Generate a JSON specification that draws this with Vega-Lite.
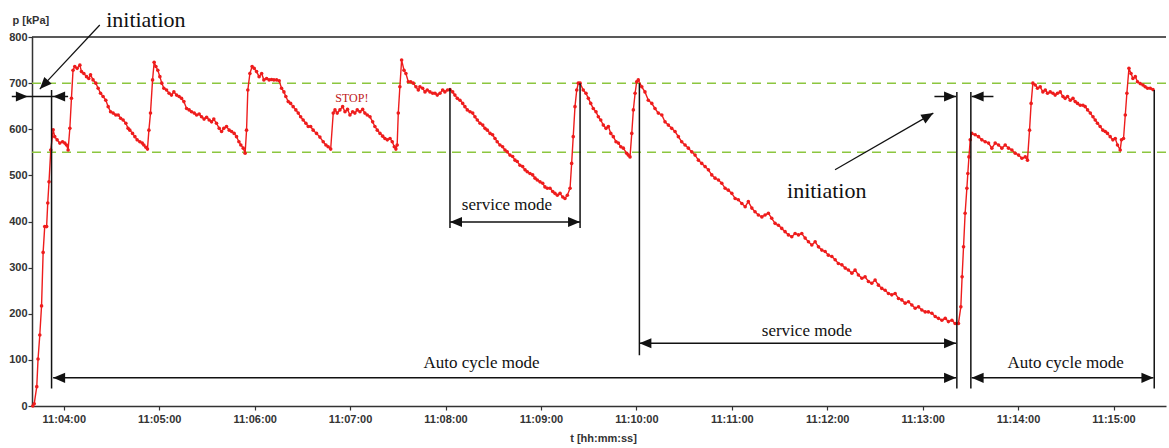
{
"$schema": "https://vega.github.io/schema/vega-lite/v6.json",
"width": 1134, "height": 369,
"autosize": {"type": "none"},
"padding": {"left": 32, "top": 37, "right": 3, "bottom": 42},
"background": "white",
"config": {"view": {"stroke": null}, "axis": {"grid": false, "labelFont": "Liberation Sans", "titleFont": "Liberation Sans", "labelFontWeight": "bold", "titleFontWeight": "bold", "labelFontSize": 11, "titleFontSize": 11, "labelColor": "#333", "titleColor": "#333", "domainColor": "#333", "tickColor": "#333", "domainWidth": 1.5, "tickWidth": 1.2, "labelFlush": false}},
"datasets": {
"limits": [{"p": 700}, {"p": 550}],
"top": [{"p": 800}],
"series": [{"t":220.5,"p":0},{"t":221.4,"p":5},{"t":223.0,"p":42},{"t":223.8,"p":102},{"t":224.9,"p":154},{"t":226.0,"p":217},{"t":227.0,"p":333},{"t":228.0,"p":389},{"t":229.2,"p":389},{"t":229.9,"p":440},{"t":230.7,"p":486},{"t":231.8,"p":555},{"t":233.3,"p":599},{"t":234.3,"p":584},{"t":235.8,"p":577},{"t":237.5,"p":570},{"t":239.2,"p":573},{"t":240.6,"p":570},{"t":241.7,"p":566},{"t":242.7,"p":555},{"t":243.8,"p":602},{"t":244.8,"p":667},{"t":245.8,"p":728},{"t":246.9,"p":736},{"t":248.4,"p":732},{"t":250.1,"p":739},{"t":251.1,"p":725},{"t":252.6,"p":721},{"t":254.3,"p":714},{"t":255.7,"p":710},{"t":256.8,"p":718},{"t":258.4,"p":707},{"t":260.1,"p":700},{"t":261.6,"p":689},{"t":263.1,"p":678},{"t":264.7,"p":671},{"t":266.4,"p":663},{"t":267.9,"p":649},{"t":269.4,"p":638},{"t":271.0,"p":635},{"t":272.7,"p":631},{"t":274.2,"p":631},{"t":275.7,"p":624},{"t":277.3,"p":620},{"t":279.0,"p":613},{"t":280.4,"p":602},{"t":281.5,"p":598},{"t":283.2,"p":591},{"t":284.7,"p":584},{"t":286.1,"p":577},{"t":287.8,"p":573},{"t":289.3,"p":570},{"t":290.3,"p":566},{"t":291.6,"p":561},{"t":292.6,"p":557},{"t":293.5,"p":598},{"t":294.5,"p":635},{"t":295.8,"p":707},{"t":296.8,"p":745},{"t":297.9,"p":736},{"t":299.1,"p":728},{"t":300.4,"p":714},{"t":301.6,"p":700},{"t":302.9,"p":689},{"t":304.6,"p":685},{"t":306.2,"p":678},{"t":307.7,"p":674},{"t":309.2,"p":681},{"t":310.9,"p":674},{"t":312.5,"p":671},{"t":314.0,"p":667},{"t":315.5,"p":660},{"t":317.2,"p":645},{"t":318.8,"p":642},{"t":320.3,"p":638},{"t":322.0,"p":635},{"t":323.5,"p":631},{"t":325.1,"p":633},{"t":326.6,"p":627},{"t":328.2,"p":622},{"t":329.8,"p":626},{"t":331.4,"p":620},{"t":332.9,"p":616},{"t":334.3,"p":622},{"t":336.0,"p":613},{"t":337.7,"p":602},{"t":339.2,"p":595},{"t":340.6,"p":602},{"t":342.3,"p":606},{"t":344.0,"p":598},{"t":345.5,"p":595},{"t":347.1,"p":591},{"t":348.6,"p":584},{"t":350.1,"p":573},{"t":351.3,"p":566},{"t":352.8,"p":559},{"t":354.0,"p":548},{"t":354.9,"p":598},{"t":355.7,"p":685},{"t":357.0,"p":721},{"t":358.4,"p":736},{"t":359.7,"p":732},{"t":361.2,"p":725},{"t":362.8,"p":714},{"t":364.4,"p":721},{"t":365.8,"p":707},{"t":367.5,"p":710},{"t":369.1,"p":707},{"t":370.6,"p":708},{"t":372.1,"p":707},{"t":373.8,"p":707},{"t":375.4,"p":705},{"t":376.9,"p":689},{"t":378.4,"p":681},{"t":379.6,"p":671},{"t":381.1,"p":660},{"t":382.6,"p":656},{"t":384.2,"p":649},{"t":385.9,"p":642},{"t":387.4,"p":635},{"t":388.9,"p":627},{"t":390.5,"p":620},{"t":392.2,"p":613},{"t":393.7,"p":606},{"t":395.2,"p":606},{"t":396.8,"p":598},{"t":398.9,"p":591},{"t":401.0,"p":583},{"t":403.1,"p":573},{"t":404.8,"p":566},{"t":406.2,"p":562},{"t":407.8,"p":557},{"t":409.4,"p":635},{"t":410.5,"p":642},{"t":411.9,"p":635},{"t":413.6,"p":642},{"t":415.3,"p":649},{"t":416.8,"p":638},{"t":418.4,"p":643},{"t":419.9,"p":631},{"t":421.6,"p":638},{"t":423.0,"p":635},{"t":424.5,"p":642},{"t":426.2,"p":638},{"t":427.9,"p":643},{"t":429.3,"p":635},{"t":430.8,"p":631},{"t":432.5,"p":627},{"t":434.2,"p":616},{"t":435.6,"p":606},{"t":437.1,"p":598},{"t":438.8,"p":591},{"t":440.5,"p":585},{"t":441.9,"p":580},{"t":443.4,"p":577},{"t":445.1,"p":580},{"t":446.5,"p":573},{"t":447.8,"p":562},{"t":448.8,"p":557},{"t":449.6,"p":566},{"t":450.3,"p":635},{"t":451.3,"p":692},{"t":452.4,"p":750},{"t":453.9,"p":728},{"t":455.1,"p":721},{"t":456.6,"p":703},{"t":458.1,"p":703},{"t":459.7,"p":700},{"t":461.4,"p":692},{"t":462.9,"p":685},{"t":463.9,"p":692},{"t":465.6,"p":689},{"t":467.1,"p":681},{"t":468.5,"p":685},{"t":470.2,"p":681},{"t":471.9,"p":678},{"t":473.4,"p":678},{"t":474.8,"p":674},{"t":476.5,"p":678},{"t":478.2,"p":685},{"t":479.6,"p":681},{"t":481.3,"p":685},{"t":482.8,"p":686},{"t":484.5,"p":681},{"t":485.9,"p":674},{"t":487.4,"p":667},{"t":489.1,"p":663},{"t":490.8,"p":656},{"t":492.2,"p":649},{"t":493.7,"p":642},{"t":495.4,"p":638},{"t":497.1,"p":635},{"t":498.5,"p":627},{"t":500.0,"p":620},{"t":501.7,"p":613},{"t":503.4,"p":609},{"t":504.8,"p":602},{"t":506.3,"p":598},{"t":508.0,"p":591},{"t":509.6,"p":588},{"t":511.1,"p":580},{"t":512.5,"p":573},{"t":514.2,"p":566},{"t":515.9,"p":562},{"t":517.4,"p":555},{"t":518.8,"p":551},{"t":520.5,"p":544},{"t":522.2,"p":541},{"t":523.7,"p":533},{"t":525.1,"p":530},{"t":526.8,"p":522},{"t":528.5,"p":519},{"t":530.0,"p":512},{"t":531.4,"p":508},{"t":533.1,"p":504},{"t":534.8,"p":501},{"t":536.3,"p":494},{"t":537.7,"p":490},{"t":539.4,"p":486},{"t":541.1,"p":483},{"t":542.5,"p":475},{"t":544.0,"p":472},{"t":545.7,"p":472},{"t":547.4,"p":465},{"t":548.8,"p":461},{"t":550.3,"p":457},{"t":552.0,"p":461},{"t":553.7,"p":453},{"t":555.1,"p":450},{"t":556.6,"p":457},{"t":558.3,"p":472},{"t":559.3,"p":526},{"t":560.3,"p":584},{"t":561.4,"p":649},{"t":562.5,"p":685},{"t":563.5,"p":700},{"t":564.6,"p":700},{"t":566.6,"p":685},{"t":568.3,"p":678},{"t":569.8,"p":667},{"t":571.3,"p":656},{"t":572.9,"p":645},{"t":574.6,"p":638},{"t":576.1,"p":627},{"t":577.6,"p":620},{"t":579.2,"p":609},{"t":580.9,"p":602},{"t":582.4,"p":606},{"t":583.9,"p":591},{"t":585.5,"p":584},{"t":587.2,"p":573},{"t":588.7,"p":570},{"t":590.2,"p":562},{"t":591.8,"p":559},{"t":593.9,"p":548},{"t":594.9,"p":544},{"t":596.0,"p":540},{"t":597.1,"p":591},{"t":598.1,"p":642},{"t":599.2,"p":678},{"t":600.2,"p":703},{"t":601.2,"p":707},{"t":603.4,"p":692},{"t":605.4,"p":681},{"t":607.5,"p":663},{"t":609.7,"p":656},{"t":611.7,"p":645},{"t":613.8,"p":635},{"t":616.0,"p":631},{"t":618.0,"p":616},{"t":620.1,"p":609},{"t":622.2,"p":602},{"t":624.3,"p":595},{"t":626.4,"p":584},{"t":628.5,"p":573},{"t":630.6,"p":566},{"t":632.7,"p":559},{"t":634.8,"p":551},{"t":636.9,"p":544},{"t":639.0,"p":533},{"t":641.1,"p":526},{"t":643.2,"p":519},{"t":645.3,"p":512},{"t":647.4,"p":501},{"t":649.5,"p":494},{"t":651.6,"p":490},{"t":653.7,"p":483},{"t":655.8,"p":472},{"t":657.8,"p":468},{"t":660.0,"p":461},{"t":662.1,"p":450},{"t":664.1,"p":447},{"t":666.3,"p":439},{"t":668.4,"p":432},{"t":670.4,"p":443},{"t":672.6,"p":429},{"t":674.6,"p":421},{"t":676.7,"p":414},{"t":678.9,"p":410},{"t":680.9,"p":414},{"t":683.0,"p":418},{"t":685.1,"p":407},{"t":687.2,"p":396},{"t":689.3,"p":392},{"t":691.4,"p":385},{"t":693.5,"p":378},{"t":695.6,"p":371},{"t":697.7,"p":367},{"t":699.8,"p":374},{"t":701.9,"p":371},{"t":704.0,"p":374},{"t":706.1,"p":364},{"t":708.2,"p":356},{"t":710.3,"p":349},{"t":712.4,"p":356},{"t":714.5,"p":345},{"t":716.6,"p":338},{"t":718.7,"p":335},{"t":720.7,"p":327},{"t":722.9,"p":324},{"t":725.0,"p":317},{"t":727.0,"p":309},{"t":729.2,"p":306},{"t":731.3,"p":299},{"t":733.3,"p":295},{"t":735.5,"p":288},{"t":737.5,"p":295},{"t":739.6,"p":284},{"t":741.8,"p":277},{"t":743.8,"p":280},{"t":745.9,"p":270},{"t":748.0,"p":266},{"t":750.1,"p":273},{"t":752.2,"p":262},{"t":754.3,"p":255},{"t":756.4,"p":251},{"t":758.5,"p":244},{"t":760.6,"p":241},{"t":762.7,"p":244},{"t":764.8,"p":233},{"t":766.9,"p":230},{"t":769.0,"p":223},{"t":771.1,"p":226},{"t":773.2,"p":219},{"t":775.3,"p":212},{"t":777.4,"p":215},{"t":779.5,"p":208},{"t":781.6,"p":204},{"t":783.6,"p":204},{"t":785.8,"p":201},{"t":787.9,"p":194},{"t":789.9,"p":190},{"t":792.1,"p":186},{"t":794.2,"p":190},{"t":796.2,"p":183},{"t":798.4,"p":186},{"t":800.4,"p":179},{"t":802.5,"p":179},{"t":804.0,"p":215},{"t":804.8,"p":280},{"t":805.7,"p":345},{"t":806.7,"p":418},{"t":807.8,"p":472},{"t":808.4,"p":504},{"t":809.1,"p":540},{"t":809.9,"p":577},{"t":810.9,"p":591},{"t":813.0,"p":588},{"t":815.1,"p":584},{"t":817.2,"p":577},{"t":819.3,"p":573},{"t":821.4,"p":570},{"t":823.5,"p":559},{"t":825.6,"p":570},{"t":827.7,"p":566},{"t":829.8,"p":559},{"t":831.9,"p":566},{"t":834.0,"p":559},{"t":836.1,"p":555},{"t":838.2,"p":548},{"t":840.3,"p":544},{"t":842.4,"p":537},{"t":844.5,"p":540},{"t":845.9,"p":533},{"t":847.2,"p":598},{"t":848.2,"p":656},{"t":849.3,"p":700},{"t":850.8,"p":696},{"t":852.2,"p":689},{"t":853.9,"p":692},{"t":855.6,"p":681},{"t":857.1,"p":685},{"t":858.5,"p":678},{"t":860.2,"p":681},{"t":861.9,"p":678},{"t":863.3,"p":674},{"t":864.8,"p":678},{"t":866.5,"p":681},{"t":868.2,"p":671},{"t":869.6,"p":667},{"t":871.1,"p":671},{"t":872.8,"p":663},{"t":874.5,"p":667},{"t":875.9,"p":660},{"t":877.4,"p":656},{"t":879.1,"p":652},{"t":880.8,"p":652},{"t":882.2,"p":649},{"t":883.7,"p":642},{"t":885.4,"p":635},{"t":887.1,"p":627},{"t":888.5,"p":620},{"t":889.9,"p":613},{"t":891.6,"p":606},{"t":893.3,"p":598},{"t":894.8,"p":595},{"t":896.2,"p":591},{"t":897.9,"p":584},{"t":899.6,"p":577},{"t":901.1,"p":580},{"t":902.5,"p":566},{"t":904.2,"p":555},{"t":905.0,"p":577},{"t":906.3,"p":580},{"t":907.4,"p":631},{"t":908.4,"p":678},{"t":909.7,"p":732},{"t":911.0,"p":721},{"t":912.2,"p":710},{"t":913.7,"p":714},{"t":915.1,"p":703},{"t":916.8,"p":699},{"t":918.5,"p":696},{"t":919.9,"p":692},{"t":921.4,"p":689},{"t":923.1,"p":689},{"t":924.8,"p":686}],
"vlines": [{"t":232.3,"p1":685,"p2":38},{"t":482.8,"p1":689,"p2":386},{"t":564.6,"p1":700,"p2":386},{"t":601.9,"p1":700,"p2":110},{"t":801.5,"p1":681,"p2":38},{"t":810.3,"p1":681,"p2":38},{"t":925.6,"p1":685,"p2":38}],
"hsegs": [{"t1":207.3,"t2":242.7,"p":671},{"t1":233.3,"t2":801.0,"p":61},{"t1":482.8,"t2":564.6,"p":399},{"t1":601.9,"t2":801.0,"p":136},{"t1":787.4,"t2":801.0,"p":671},{"t1":810.8,"t2":824.5,"p":671},{"t1":810.8,"t2":925.1,"p":61}],
"heads": [{"t":217.4,"p":671,"dir":"right"},{"t":233.3,"p":671,"dir":"left"},{"t":233.3,"p":61,"dir":"left"},{"t":801.0,"p":61,"dir":"right"},{"t":482.8,"p":399,"dir":"left"},{"t":564.6,"p":399,"dir":"right"},{"t":601.9,"p":136,"dir":"left"},{"t":801.0,"p":136,"dir":"right"},{"t":801.0,"p":671,"dir":"right"},{"t":810.8,"p":671,"dir":"left"},{"t":810.8,"p":61,"dir":"left"},{"t":925.1,"p":61,"dir":"right"},{"t":224.9,"p":687,"dir":"downleft"},{"t":786.7,"p":635,"dir":"upright"}],
"diag": [{"t":262.6,"p":826,"t2":224.9,"p2":687},{"t":724.9,"p":512,"t2":786.7,"p2":635}],
"labels": [{"t":291.6,"p":822,"text":"initiation","kind":"big"},{"t":719.7,"p":452,"text":"initiation","kind":"big"},{"t":518.6,"p":425,"text":"service mode","kind":"mid"},{"t":707.2,"p":152,"text":"service mode","kind":"mid"},{"t":502.6,"p":82,"text":"Auto cycle mode","kind":"mid"},{"t":869.9,"p":82,"text":"Auto cycle mode","kind":"mid"},{"t":421.1,"p":660,"text":"STOP!","kind":"stop"}]
},
"layer": [
{"data": {"name": "limits"}, "mark": {"type": "rule", "color": "#8cc63f", "strokeWidth": 1.5, "strokeDash": [9, 6]},
 "encoding": {"y": {"field": "p", "type": "quantitative", "title": "p [kPa]", "scale": {"domain": [0, 800], "nice": false, "zero": true}}}},
{"data": {"name": "series"}, "mark": {"type": "line", "color": "#ee1c1c", "strokeWidth": 1.4, "point": {"filled": true, "size": 13, "color": "#ee1c1c", "opacity": 1}},
 "encoding": {
  "x": {"field": "t", "type": "quantitative", "title": "t [hh:mm:ss]", "scale": {"domain": [220, 933], "nice": false, "zero": false},
        "axis": {"values": [240, 300, 360, 420, 480, 540, 600, 660, 720, 780, 840, 900], "labelExpr": "'11:' + (datum.value < 600 ? '0' : '') + (datum.value / 60) + ':00'", "titleX": 571, "titleY": 32, "titleAlign": "center", "titleBaseline": "middle", "tickSize": 4, "labelPadding": 3}},
  "y": {"field": "p", "type": "quantitative", "title": "p [kPa]", "scale": {"domain": [0, 800], "nice": false, "zero": true},
        "axis": {"values": [0, 50, 100, 150, 200, 250, 300, 350, 400, 450, 500, 550, 600, 650, 700, 750, 800], "labelExpr": "datum.value % 100 === 0 ? datum.label : ''", "titleAngle": 0, "titleAlign": "left", "titleBaseline": "middle", "titleX": -20, "titleY": -17, "tickSize": 4, "labelPadding": 1}}
 }},
{"data": {"name": "top"}, "mark": {"type": "rule", "color": "#222", "strokeWidth": 1.5}, "encoding": {"y": {"field": "p", "type": "quantitative", "title": "p [kPa]", "scale": {"domain": [0, 800], "nice": false}}}},
{"data": {"name": "vlines"}, "mark": {"type": "rule", "color": "#111", "strokeWidth": 1.5},
 "encoding": {"x": {"field": "t", "type": "quantitative", "title": "t [hh:mm:ss]", "scale": {"domain": [220, 933], "nice": false, "zero": false}}, "y": {"field": "p1", "type": "quantitative", "title": "p [kPa]", "scale": {"domain": [0, 800], "nice": false}}, "y2": {"field": "p2"}}},
{"data": {"name": "hsegs"}, "mark": {"type": "rule", "color": "#111", "strokeWidth": 1.5},
 "encoding": {"x": {"field": "t1", "type": "quantitative", "title": "t [hh:mm:ss]", "scale": {"domain": [220, 933], "nice": false, "zero": false}}, "x2": {"field": "t2"}, "y": {"field": "p", "type": "quantitative", "title": "p [kPa]", "scale": {"domain": [0, 800], "nice": false}}}},
{"data": {"name": "diag"}, "mark": {"type": "rule", "color": "#111", "strokeWidth": 1.2},
 "encoding": {"x": {"field": "t", "type": "quantitative", "title": "t [hh:mm:ss]", "scale": {"domain": [220, 933], "nice": false, "zero": false}}, "x2": {"field": "t2"}, "y": {"field": "p", "type": "quantitative", "title": "p [kPa]", "scale": {"domain": [0, 800], "nice": false}}, "y2": {"field": "p2"}}},
{"data": {"name": "heads"}, "transform": [{"filter": "datum.dir === 'right'"}], "mark": {"type": "point", "shape": "M0,0L-0.42,1L0.42,1Z", "filled": true, "color": "#111", "opacity": 1, "size": 576, "angle": 90},
 "encoding": {"x": {"field": "t", "type": "quantitative", "title": "t [hh:mm:ss]", "scale": {"domain": [220, 933], "nice": false, "zero": false}}, "y": {"field": "p", "type": "quantitative", "title": "p [kPa]", "scale": {"domain": [0, 800], "nice": false}}}},
{"data": {"name": "heads"}, "transform": [{"filter": "datum.dir === 'left'"}], "mark": {"type": "point", "shape": "M0,0L-0.42,1L0.42,1Z", "filled": true, "color": "#111", "opacity": 1, "size": 576, "angle": 270},
 "encoding": {"x": {"field": "t", "type": "quantitative", "title": "t [hh:mm:ss]", "scale": {"domain": [220, 933], "nice": false, "zero": false}}, "y": {"field": "p", "type": "quantitative", "title": "p [kPa]", "scale": {"domain": [0, 800], "nice": false}}}},
{"data": {"name": "heads"}, "transform": [{"filter": "datum.dir === 'downleft'"}], "mark": {"type": "point", "shape": "M0,0L-0.42,1L0.42,1Z", "filled": true, "color": "#111", "opacity": 1, "size": 576, "angle": 223},
 "encoding": {"x": {"field": "t", "type": "quantitative", "title": "t [hh:mm:ss]", "scale": {"domain": [220, 933], "nice": false, "zero": false}}, "y": {"field": "p", "type": "quantitative", "title": "p [kPa]", "scale": {"domain": [0, 800], "nice": false}}}},
{"data": {"name": "heads"}, "transform": [{"filter": "datum.dir === 'upright'"}], "mark": {"type": "point", "shape": "M0,0L-0.42,1L0.42,1Z", "filled": true, "color": "#111", "opacity": 1, "size": 576, "angle": 60},
 "encoding": {"x": {"field": "t", "type": "quantitative", "title": "t [hh:mm:ss]", "scale": {"domain": [220, 933], "nice": false, "zero": false}}, "y": {"field": "p", "type": "quantitative", "title": "p [kPa]", "scale": {"domain": [0, 800], "nice": false}}}},
{"data": {"name": "labels"}, "transform": [{"filter": "datum.kind === 'big'"}], "mark": {"type": "text", "font": "Liberation Serif, DejaVu Serif, serif", "fontSize": 22, "color": "#111", "align": "center", "baseline": "alphabetic"},
 "encoding": {"x": {"field": "t", "type": "quantitative", "title": "t [hh:mm:ss]", "scale": {"domain": [220, 933], "nice": false, "zero": false}}, "y": {"field": "p", "type": "quantitative", "title": "p [kPa]", "scale": {"domain": [0, 800], "nice": false}}, "text": {"field": "text"}}},
{"data": {"name": "labels"}, "transform": [{"filter": "datum.kind === 'mid'"}], "mark": {"type": "text", "font": "Liberation Serif, DejaVu Serif, serif", "fontSize": 17, "color": "#111", "align": "center", "baseline": "alphabetic"},
 "encoding": {"x": {"field": "t", "type": "quantitative", "title": "t [hh:mm:ss]", "scale": {"domain": [220, 933], "nice": false, "zero": false}}, "y": {"field": "p", "type": "quantitative", "title": "p [kPa]", "scale": {"domain": [0, 800], "nice": false}}, "text": {"field": "text"}}},
{"data": {"name": "labels"}, "transform": [{"filter": "datum.kind === 'stop'"}], "mark": {"type": "text", "font": "Liberation Serif, DejaVu Serif, serif", "fontSize": 12, "color": "#c0201a", "align": "center", "baseline": "alphabetic"},
 "encoding": {"x": {"field": "t", "type": "quantitative", "title": "t [hh:mm:ss]", "scale": {"domain": [220, 933], "nice": false, "zero": false}}, "y": {"field": "p", "type": "quantitative", "title": "p [kPa]", "scale": {"domain": [0, 800], "nice": false}}, "text": {"field": "text"}}}
]
}
